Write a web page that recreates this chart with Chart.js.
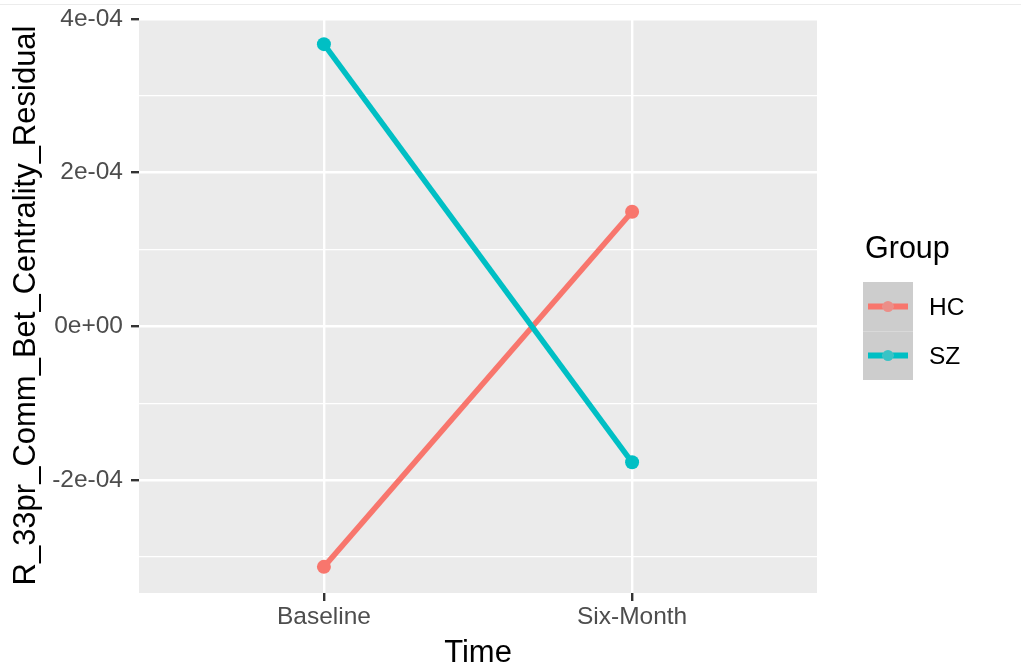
<!DOCTYPE html>
<html>
<head>
<meta charset="utf-8">
<script src="https://cdn.jsdelivr.net/npm/chart.js@4/dist/chart.umd.min.js"></script>
<style>
  html, body { margin: 0; padding: 0; background: #ffffff; }
  #wrap { position: relative; width: 1021px; height: 668px; }
  #topRule { position: absolute; left: 0; top: 4px; width: 1021px; height: 1px; background: #ececec; }
  canvas { display: block; }
</style>
</head>
<body>
<div id="wrap">
  <canvas id="chart" width="1021" height="668"></canvas>
  <div id="topRule"></div>
</div>
<script>
// Time points on the x axis
const categories = ['Baseline', 'Six-Month'];

// Group means of the residual at each time point
const groupNames = ['HC', 'SZ'];
const hcValues = [-3.13e-4, 1.49e-4];
const szValues = [3.67e-4, -1.77e-4];
const groupColors = ['#F8766D', '#00BFC4'];

// Y axis ticks
const yMajorTicks = [-2e-4, 0, 2e-4, 4e-4];
const yMajorLabels = ['-2e-04', '0e+00', '2e-04', '4e-04'];
const yMinorTicks = [-3e-4, -1e-4, 1e-4, 3e-4];

const xTitle = 'Time';
const yTitle = 'R_33pr_Comm_Bet_Centrality_Residual';
const legendTitle = 'Group';

// ggplot-style 5% expansion of the continuous axis
const allVals = hcValues.concat(szValues);
const dMin = Math.min(...allVals), dMax = Math.max(...allVals);
const yPad = (dMax - dMin) * 0.05;

const FONT = '"Liberation Sans", Arial, Helvetica, sans-serif';
const isMajor = v => yMajorTicks.some(t => Math.abs(t - v) < 1e-12);

const toPoints = vals => vals.map((v, i) => ({ x: i + 1, y: v }));

// Legend drawn ggplot-style to the right of the panel
const groupLegend = {
  id: 'groupLegend',
  afterDraw(chart) {
    const ctx = chart.ctx;
    const left = chart.chartArea.right + 46;
    ctx.save();
    ctx.fillStyle = '#000000';
    ctx.font = '30.5px ' + FONT;
    ctx.textBaseline = 'alphabetic';
    ctx.textAlign = 'left';
    ctx.fillText(legendTitle, left + 2, 258);

    const keyTop = 282, keyH = 49, keyW = 50;
    ctx.fillStyle = '#cdcdcd';
    ctx.fillRect(left, keyTop, keyW, keyH * groupNames.length);
    ctx.strokeStyle = '#d9d9d9';
    ctx.lineWidth = 1;
    for (let i = 1; i < groupNames.length; i++) {
      ctx.beginPath();
      ctx.moveTo(left, keyTop + keyH * i + 0.5);
      ctx.lineTo(left + keyW, keyTop + keyH * i + 0.5);
      ctx.stroke();
    }
    groupNames.forEach((name, i) => {
      const cy = keyTop + keyH * i + keyH / 2;
      ctx.strokeStyle = groupColors[i];
      ctx.lineWidth = 6;
      ctx.lineCap = 'butt';
      ctx.beginPath();
      ctx.moveTo(left + 5, cy);
      ctx.lineTo(left + 45, cy);
      ctx.stroke();
      ctx.beginPath();
      ctx.arc(left + 25, cy, 5.5, 0, Math.PI * 2);
      ctx.fillStyle = '#cdcdcd';
      ctx.fill();
      ctx.globalAlpha = 0.72;
      ctx.fillStyle = groupColors[i];
      ctx.fill();
      ctx.globalAlpha = 1;
      ctx.fillStyle = '#000000';
      ctx.font = '24.5px ' + FONT;
      ctx.fillText(name, left + 66, cy + 8.5);
    });
    ctx.restore();
  }
};

// Grey panel background
const panelBg = {
  id: 'panelBg',
  beforeDraw(chart) {
    const a = chart.chartArea, ctx = chart.ctx;
    ctx.save();
    ctx.fillStyle = '#EBEBEB';
    ctx.fillRect(a.left, a.top, a.right - a.left, a.bottom - a.top);
    ctx.restore();
  }
};

new Chart(document.getElementById('chart'), {
  type: 'line',
  data: {
    datasets: [
      {
        label: groupNames[0],
        data: toPoints(hcValues),
        borderColor: groupColors[0],
        backgroundColor: groupColors[0],
        pointBackgroundColor: groupColors[0],
        borderWidth: 5.5,
        pointRadius: 7,
        pointBorderWidth: 0,
        tension: 0,
        order: 1
      },
      {
        label: groupNames[1],
        data: toPoints(szValues),
        borderColor: groupColors[1],
        backgroundColor: groupColors[1],
        pointBackgroundColor: groupColors[1],
        borderWidth: 5.5,
        pointRadius: 7,
        pointBorderWidth: 0,
        tension: 0,
        order: 0
      }
    ]
  },
  options: {
    responsive: false,
    animation: false,
    devicePixelRatio: 1,
    layout: { padding: { top: 18, right: 204, bottom: 0, left: 0 } },
    plugins: {
      legend: { display: false },
      tooltip: { enabled: false },
      title: { display: false }
    },
    scales: {
      x: {
        type: 'linear',
        min: 0.4,
        max: 2.6,
        afterBuildTicks: scale => { scale.ticks = categories.map((c, i) => ({ value: i + 1 })); },
        afterFit: scale => { scale.height = 75; },
        border: { display: false },
        grid: {
          color: '#FFFFFF',
          lineWidth: 2.4,
          drawTicks: true,
          tickLength: 8,
          tickColor: '#333333',
          tickWidth: 2.4
        },
        ticks: {
          callback: v => categories[Math.round(v) - 1],
          color: '#4D4D4D',
          font: { family: FONT, size: 24.5 },
          padding: 2,
          maxRotation: 0,
          autoSkip: false
        },
        title: {
          display: true,
          text: xTitle,
          color: '#000000',
          font: { family: FONT, size: 31, lineHeight: 1 },
          padding: { top: 0, bottom: -1 }
        }
      },
      y: {
        type: 'linear',
        min: dMin - yPad,
        max: dMax + yPad,
        afterBuildTicks: scale => {
          scale.ticks = yMinorTicks.concat(yMajorTicks).sort((a, b) => a - b).map(v => ({ value: v }));
        },
        afterFit: scale => { scale.width = 139; },
        border: { display: false },
        grid: {
          color: '#FFFFFF',
          lineWidth: c => isMajor(c.tick.value) ? 2.4 : 1.2,
          drawTicks: true,
          tickLength: 8,
          tickColor: c => isMajor(c.tick.value) ? '#333333' : 'rgba(0,0,0,0)',
          tickWidth: 2.4
        },
        ticks: {
          callback: v => {
            const i = yMajorTicks.findIndex(t => Math.abs(t - v) < 1e-12);
            return i >= 0 ? yMajorLabels[i] : '';
          },
          color: '#4D4D4D',
          font: { family: FONT, size: 24.5, lineHeight: 0.7 },
          padding: 8,
          autoSkip: false
        },
        title: {
          display: true,
          text: yTitle,
          color: '#000000',
          font: { family: FONT, size: 31, lineHeight: 1 },
          padding: { top: 11, bottom: 0 }
        }
      }
    }
  },
  plugins: [panelBg, groupLegend]
});
</script>
</body>
</html>
